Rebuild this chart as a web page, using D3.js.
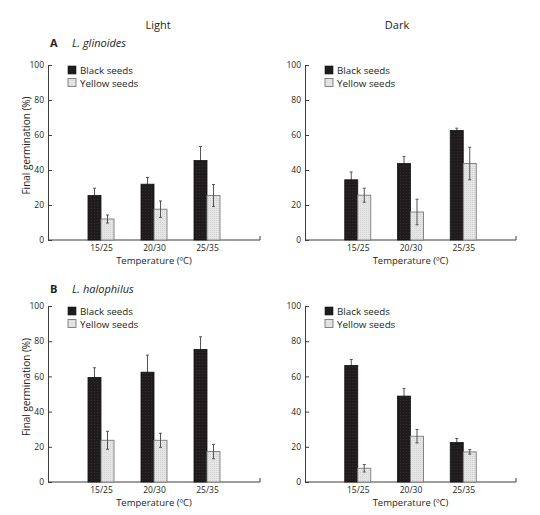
<!DOCTYPE html>
<html><head><meta charset="utf-8">
<script src="https://cdn.jsdelivr.net/npm/d3@7"></script>
<style>
html,body{margin:0;padding:0;background:#fff;}
text{font-family:"Open Sans","Noto Sans",sans-serif;fill:#231f20;}
</style></head>
<body><svg id="c" width="540" height="515"></svg>
<script>
const categories = ["15/25", "20/30", "25/35"];
const seriesNames = ["Black seeds", "Yellow seeds"];
const yTicks = [0, 20, 40, 60, 80, 100];

const aLightBlack = [25.4, 31.9, 45.4];
const aLightBlackErr = [4.2, 3.8, 8.0];
const aLightYellow = [12.0, 17.6, 25.4];
const aLightYellowErr = [2.3, 4.7, 6.3];

const aDarkBlack = [34.4, 43.7, 62.6];
const aDarkBlackErr = [4.5, 4.0, 1.3];
const aDarkYellow = [25.6, 16.0, 43.7];
const aDarkYellowErr = [4.0, 7.3, 9.3];

const bLightBlack = [59.4, 62.4, 75.3];
const bLightBlackErr = [5.5, 9.7, 7.2];
const bLightYellow = [23.7, 23.7, 17.3];
const bLightYellowErr = [5.1, 4.0, 4.1];

const bDarkBlack = [66.2, 48.8, 22.4];
const bDarkBlackErr = [3.4, 4.3, 2.3];
const bDarkYellow = [7.8, 26.0, 17.1];
const bDarkYellowErr = [2.1, 3.8, 1.3];

const svg = d3.select("#c");
const defs = svg.append("defs");
// dotted textures
const pb = defs.append("pattern").attr("id","pBlack").attr("width",3).attr("height",3).attr("patternUnits","userSpaceOnUse");
pb.append("rect").attr("width",3).attr("height",3).attr("fill","#1e1c1d");
pb.append("rect").attr("x",1).attr("y",1).attr("width",1).attr("height",1).attr("fill","#3a2a2c");
const py = defs.append("pattern").attr("id","pYellow").attr("width",2).attr("height",2).attr("patternUnits","userSpaceOnUse");
py.append("rect").attr("width",2).attr("height",2).attr("fill","#e6e6e6");
py.append("rect").attr("x",0).attr("y",0).attr("width",1).attr("height",1).attr("fill","#d2d2d2");

const panels = [
  {x0:48, x1:260, y0:240, y100:65, black:aLightBlack, be:aLightBlackErr, yellow:aLightYellow, ye:aLightYellowErr, ylab:true},
  {x0:305, x1:516, y0:240, y100:65, black:aDarkBlack, be:aDarkBlackErr, yellow:aDarkYellow, ye:aDarkYellowErr, ylab:false},
  {x0:48, x1:260, y0:482, y100:306, black:bLightBlack, be:bLightBlackErr, yellow:bLightYellow, ye:bLightYellowErr, ylab:true},
  {x0:305, x1:516, y0:482, y100:306, black:bDarkBlack, be:bDarkBlackErr, yellow:bDarkYellow, ye:bDarkYellowErr, ylab:false}
];

const barW = 13;
const axisCol = "#3c3c3c";
const errCol = "#555";

panels.forEach(p => {
  const g = svg.append("g");
  const x = d3.scalePoint().domain(categories).range([p.x0, p.x1]).padding(1);
  const y = d3.scaleLinear().domain([0, 100]).range([p.y0, p.y100]);

  // y axis
  const ya = g.append("g").attr("transform", `translate(${p.x0},0)`)
    .call(d3.axisLeft(y).tickValues(yTicks).tickSizeInner(-4).tickSizeOuter(0).tickPadding(4));
  ya.select(".domain").attr("stroke", axisCol);
  ya.selectAll(".tick line").attr("stroke", axisCol);
  ya.selectAll(".tick text").attr("font-size", 8.5).attr("font-family", '"Open Sans",sans-serif').attr("fill","#231f20");

  // x axis
  const xa = g.append("g").attr("transform", `translate(0,${p.y0})`)
    .call(d3.axisBottom(x).tickSize(0).tickPadding(5));
  xa.select(".domain").attr("stroke", axisCol).attr("d", `M${p.x0},0H${p.x1}V-4`);
  xa.selectAll(".tick text").attr("font-size", 8.5).attr("font-family", '"Open Sans",sans-serif').attr("fill","#231f20");

  const drawErr = (vals, errs, off) => {
    vals.forEach((v, i) => {
      const cx = x(categories[i]) + off;
      const lo = y(v - errs[i]), hi = y(v + errs[i]);
      g.append("line").attr("x1",cx).attr("x2",cx).attr("y1",lo).attr("y2",hi).attr("stroke",errCol).attr("stroke-width",1);
      g.append("line").attr("x1",cx-1.5).attr("x2",cx+1.5).attr("y1",hi).attr("y2",hi).attr("stroke",errCol).attr("stroke-width",1);
      g.append("line").attr("x1",cx-1.5).attr("x2",cx+1.5).attr("y1",lo).attr("y2",lo).attr("stroke",errCol).attr("stroke-width",1);
    });
  };
  // black error bars drawn behind the black bars
  drawErr(p.black, p.be, -barW/2);
  g.selectAll(".bb").data(p.black).enter().append("rect")
    .attr("x",(d,i)=>x(categories[i]) - barW).attr("width",barW)
    .attr("y",d=>y(d)).attr("height",d=>y(0)-y(d))
    .attr("fill","url(#pBlack)").attr("stroke","#111").attr("stroke-width",0.8);
  g.selectAll(".yb").data(p.yellow).enter().append("rect")
    .attr("x",(d,i)=>x(categories[i])).attr("width",barW)
    .attr("y",d=>y(d)).attr("height",d=>y(0)-y(d))
    .attr("fill","url(#pYellow)").attr("stroke","#7a7a7a").attr("stroke-width",0.9);
  drawErr(p.yellow, p.ye, barW/2);

  // legend
  const lx = p.x0 + 20, ly = p.y100 + 1, ls = 12.5;
  g.append("rect").attr("x",lx).attr("y",ly).attr("width",8).attr("height",8).attr("fill","#1e1c1d").attr("stroke","#111").attr("stroke-width",0.6);
  g.append("rect").attr("x",lx).attr("y",ly+ls).attr("width",8).attr("height",8).attr("fill","#e2e2e2").attr("stroke","#7a7a7a").attr("stroke-width",0.9);
  seriesNames.forEach((nm, i) => {
    g.append("text").attr("x",lx+12).attr("y",ly+8+i*ls)
      .attr("font-family",'"Liberation Sans",Arial,sans-serif').attr("font-size",9.8).text(nm);
  });

  // x label
  g.append("text").attr("x",(p.x0+p.x1)/2).attr("y",p.y0+23.5).attr("text-anchor","middle").attr("font-size",9.5).text("Temperature (ºC)");

  if (p.ylab) {
    const cy = (p.y0 + p.y100)/2 - 7;
    g.append("text").attr("transform",`translate(30,${cy}) rotate(-90)`).attr("text-anchor","middle").attr("font-size",10).text("Final germination (%)");
  }
});

// titles
svg.append("text").attr("x",158).attr("y",29).attr("text-anchor","middle").attr("font-size",11).text("Light");
svg.append("text").attr("x",397).attr("y",29).attr("text-anchor","middle").attr("font-size",11).text("Dark");
svg.append("text").attr("x",50).attr("y",47).attr("font-size",11).attr("font-weight","bold").text("A");
svg.append("text").attr("x",72).attr("y",47).attr("font-size",11).attr("font-style","italic").text("L. glinoides");
svg.append("text").attr("x",50).attr("y",293).attr("font-size",11).attr("font-weight","bold").text("B");
svg.append("text").attr("x",72).attr("y",293).attr("font-size",11).attr("font-style","italic").text("L. halophilus");
</script></body></html>
